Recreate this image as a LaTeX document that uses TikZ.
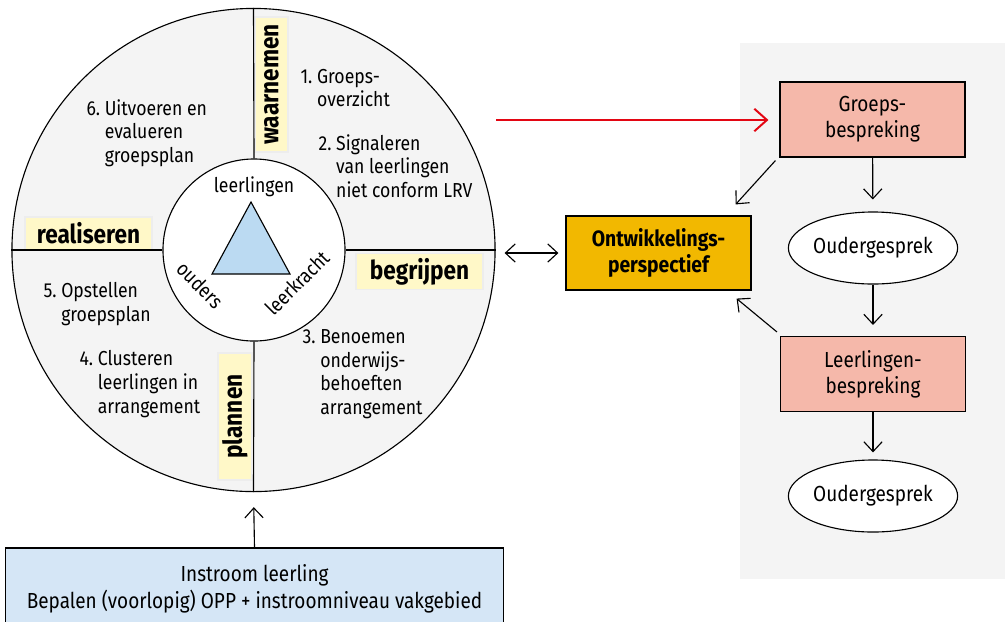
\documentclass[tikz,border=0pt]{standalone}
\usepackage{fontspec}
\setmainfont[FakeStretch=0.87]{Fira Sans}
\usetikzlibrary{shapes.geometric,arrows.meta,calc}

\definecolor{ringgrey}{HTML}{F4F4F4}
\definecolor{labelyellow}{HTML}{FFF8C8}
\definecolor{salmon}{HTML}{F5B8AA}
\definecolor{oppgold}{HTML}{F2B800}
\definecolor{triblue}{HTML}{BBDAF2}
\definecolor{inblue}{HTML}{D5E6F6}
\definecolor{redline}{HTML}{E30613}

\begin{document}
\begin{tikzpicture}[x=0.025cm, y=-0.025cm, line width=0.8pt,
    ringtext/.style={anchor=west, align=left, inner sep=0pt, font=\fontsize{14.4}{16.8}\selectfont},
    phase/.style={fill=labelyellow, draw=black!7, inner sep=0pt, minimum height=0.85cm,
      font=\bfseries\fontsize{18.5}{20}\selectfont},
    bespreking/.style={draw, fill=salmon, minimum width=4.625cm, minimum height=1.875cm,
      align=center, font=\fontsize{15.5}{18.5}\selectfont},
    gesprek/.style={draw, fill=white, ellipse, minimum width=4.15cm, minimum height=1.8cm,
      inner sep=0pt, font=\fontsize{15.5}{18.5}\selectfont},
    pijl/.style={-{Straight Barb[length=7pt,width=13pt]}},
  ]
    \useasboundingbox (0,0) rectangle (1005,621);

    % grey panel on the right
    \fill[ringgrey] (740,43) rectangle (1005,579);

    % the wheel
    \node[circle, draw, fill=ringgrey, minimum size=12.075cm, inner sep=0pt] (wheel) at (253.5,250) {};
    \node[circle, draw, fill=white, minimum size=4.55cm, inner sep=0pt] (hub) at (254,250) {};

    % phases
    \node[phase, rotate=90, minimum width=3.375cm, minimum height=0.825cm] (waarnemen) at (271.5,84.5) {waarnemen};
    \node[phase, minimum width=3.175cm, minimum height=0.825cm] (realiseren) at (88.5,233.5) {realiseren};
    \node[phase, minimum width=3.175cm, minimum height=0.9cm] (begrijpen) at (419.5,271.5) {begrijpen};
    \node[phase, rotate=90, minimum width=3.175cm] (plannen) at (235,416.5) {plannen};

    \draw (wheel.north) -- (hub.north);
    \draw (wheel.south) -- (hub.south);
    \draw (wheel.west) -- (hub.west);
    \draw (wheel.east) -- (hub.east);

    % triangle in the hub
    \draw[fill=triblue] (251,202) -- (212,274) -- (290,274) -- cycle;
    \node[font=\fontsize{14.4}{16.8}\selectfont] (leerlingen) at (254,187) {leerlingen};
    \node[font=\fontsize{14.4}{16.8}\selectfont, rotate=-45, inner sep=0pt] (ouders) at (200,285) {ouders};
    \node[font=\fontsize{14.4}{16.8}\selectfont, rotate=45, inner sep=0pt] (leerkracht) at (297,283) {leerkracht};

    % steps
    \node[ringtext] (stap1) at (300,88) {1.~Groeps-\\\hphantom{1.~}overzicht};
    \node[ringtext] (stap2) at (318,166) {2.~Signaleren\\\hphantom{2.~}van leerlingen\\\hphantom{2.~}niet conform LRV};
    \node[ringtext] (stap3) at (302,374) {3.~Benoemen\\\hphantom{3.~}onderwijs-\\\hphantom{3.~}behoeften\\\hphantom{3.~}arrangement};
    \node[ringtext] (stap4) at (79,384) {4.~Clusteren\\\hphantom{4.~}leerlingen in\\\hphantom{4.~}arrangement};
    \node[ringtext] (stap5) at (43,304) {5.~Opstellen\\\hphantom{5.~}groepsplan};
    \node[ringtext] (stap6) at (86,133) {6.~Uitvoeren en\\\hphantom{6.~}evalueren\\\hphantom{6.~}groepsplan};

    % right hand side
    \node[bespreking] (groepsbespreking) at (872.5,119.5) {Groeps-\\bespreking};
    \node[gesprek] (oudergesprek1) at (873,248) {Oudergesprek};
    \node[bespreking] (leerlingbespreking) at (873,374) {Leerlingen-\\bespreking};
    \node[gesprek] (oudergesprek2) at (873,496) {Oudergesprek};
    \node[draw, fill=oppgold, minimum width=4.625cm, minimum height=1.85cm, align=center,
      font=\bfseries\fontsize{15.8}{18.5}\selectfont] (opp) at (658.5,253) {Ontwikkelings-\\perspectief};

    \node[draw, fill=inblue, minimum width=12.425cm, minimum height=2.05cm, align=center,
      font=\fontsize{15.5}{19}\selectfont] (instroom) at (254.5,589)
      {Instroom leerling\\Bepalen (voorlopig) OPP + instroomniveau vakgebied};

    % arrows
    \coordinate (redstart) at (496,120);
    \draw[redline, line width=1.4pt, -{Straight Barb[length=9pt,width=16pt]}, shorten >=7.8pt]
      (redstart) -- (groepsbespreking.west |- redstart);
    \draw[{Straight Barb[length=7pt,width=13pt]}-{Straight Barb[length=7pt,width=13pt]},
      shorten <=6.4pt, shorten >=5pt] (wheel.east |- opp.west) -- (opp.west);
    \draw[pijl, shorten >=8.5pt] (groepsbespreking) -- (oudergesprek1);
    \draw[pijl, shorten >=7.8pt] (oudergesprek1) -- (leerlingbespreking);
    \draw[pijl, shorten >=5pt] (leerlingbespreking) -- (oudergesprek2);
    \draw[pijl] ($(groepsbespreking.south west)+(-4,3)$) -- ($(opp.north east)+(-16,-11)$);
    \draw[pijl] ($(leerlingbespreking.north west)+(-3,-4)$) -- ($(opp.south east)+(-15,8)$);
    \draw[pijl, shorten >=10.7pt] (instroom.north) -- (wheel.south);
  \end{tikzpicture}
\end{document}
